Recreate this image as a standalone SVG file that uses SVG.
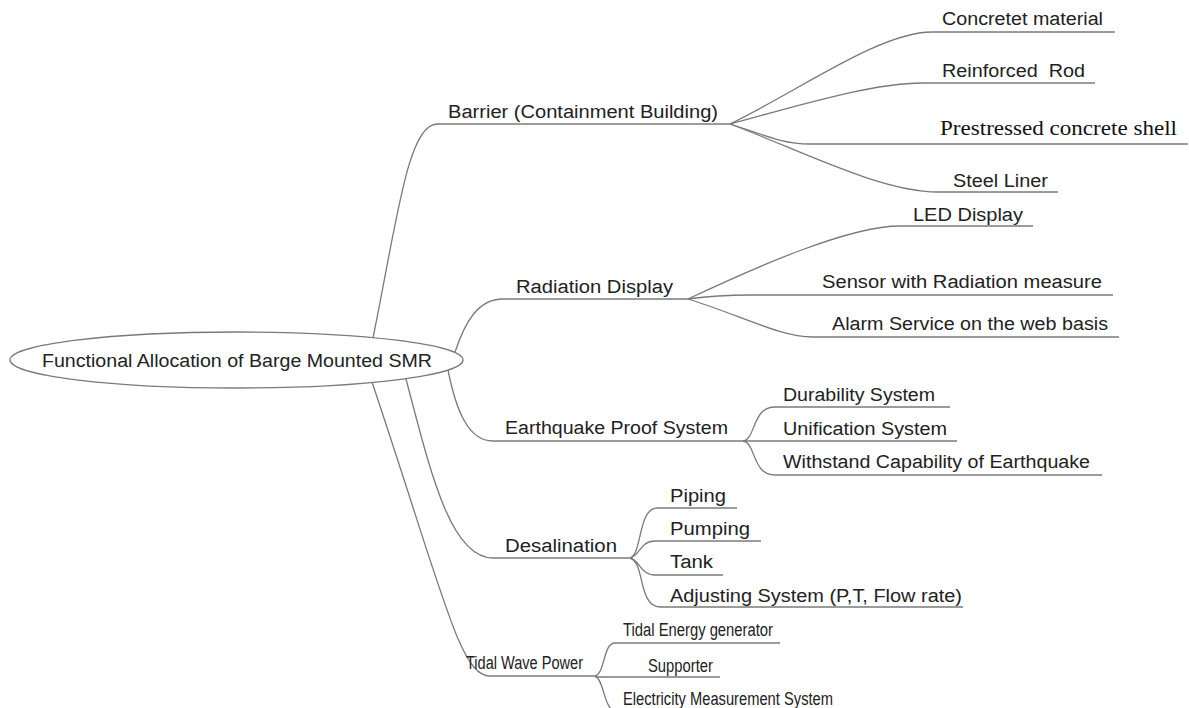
<svg xmlns="http://www.w3.org/2000/svg" width="1189" height="708" viewBox="0 0 1189 708">
<style>
.ln{fill:none;stroke:#7a7a7a;stroke-width:1.3}
.t{font-family:"Liberation Sans",Arial,sans-serif;font-size:18px;fill:#222}
.s{font-family:"Liberation Serif","Times New Roman",serif;font-size:21px;fill:#111}
</style>
<rect width="1189" height="708" fill="#fff"/>
<g id="connectors" class="ln">
<path d="M373,338 C397,220 408,124 437,124"/>
<path d="M730,124 C800,90 880,32 932,32"/>
<path d="M730,124 C790,108 870,83 922,83"/>
<path d="M730,124 C760,133 780,144 810,144"/>
<path d="M730,124 C800,150 880,192 938,192"/>
<path d="M455,352 C465,322 478,299 503,299"/>
<path d="M688,299 C760,265 850,226 900,226"/>
<path d="M688,299 C710,296 730,295 750,295"/>
<path d="M688,299 C740,315 780,337 813,337"/>
<path d="M448,370 C456,410 468,441 493,441"/>
<path d="M743,441 C756,439 752,407 775,407"/>
<path d="M743,441 C756,443 752,475 775,475"/>
<path d="M406,379 C430,470 450,558 493,558"/>
<path d="M630,558 C642,555 638,508 657,508"/>
<path d="M630,558 C640,556 640,541 655,541"/>
<path d="M630,558 C640,560 640,575 655,575"/>
<path d="M630,558 C645,562 638,607 660,607"/>
<path d="M372,382 C445,600 460,676 490,676"/>
<path d="M595,676 C605,674 603,643 615,643"/>
<path d="M595,676 C605,680 603,712 618,712"/>
</g>
<g id="root">
<ellipse cx="236.5" cy="360" rx="226.5" ry="28" fill="#fff" stroke="#7a7a7a" stroke-width="1.3"/>
<text class="t" x="42" y="367" font-size="19" textLength="390" lengthAdjust="spacingAndGlyphs">Functional Allocation of Barge Mounted SMR</text>
</g>
<g id="barrier"><path class="ln" d="M437,124 H730"/><text class="t" x="448" y="118" font-size="19.5" textLength="270" lengthAdjust="spacingAndGlyphs">Barrier (Containment Building)</text></g>
<g id="concretet"><path class="ln" d="M932,32 H1115"/><text class="t" x="942" y="25" textLength="161" lengthAdjust="spacingAndGlyphs">Concretet material</text></g>
<g id="reinforced"><path class="ln" d="M922,83 H1095"/><text class="t" x="942" y="77" xml:space="preserve" style="white-space:pre" textLength="143" lengthAdjust="spacingAndGlyphs">Reinforced  Rod</text></g>
<g id="prestressed"><path class="ln" d="M810,144 H1188"/><text class="s" x="940" y="135" textLength="237" lengthAdjust="spacingAndGlyphs">Prestressed concrete shell</text></g>
<g id="steel"><path class="ln" d="M938,192 H1058"/><text class="t" x="953" y="187" textLength="95" lengthAdjust="spacingAndGlyphs">Steel Liner</text></g>
<g id="radiation"><path class="ln" d="M503,299 H690"/><text class="t" x="516" y="293" textLength="157" lengthAdjust="spacingAndGlyphs">Radiation Display</text></g>
<g id="led"><path class="ln" d="M900,226 H1033"/><text class="t" x="913" y="221" textLength="110" lengthAdjust="spacingAndGlyphs">LED Display</text></g>
<g id="sensor"><path class="ln" d="M750,295 H1113"/><text class="t" x="822" y="288" textLength="280" lengthAdjust="spacingAndGlyphs">Sensor with Radiation measure</text></g>
<g id="alarm"><path class="ln" d="M813,337 H1119"/><text class="t" x="832" y="330" textLength="276" lengthAdjust="spacingAndGlyphs">Alarm Service on the web basis</text></g>
<g id="earthquake"><path class="ln" d="M493,441 H743"/><text class="t" x="505" y="434" textLength="223" lengthAdjust="spacingAndGlyphs">Earthquake Proof System</text></g>
<g id="durability"><path class="ln" d="M775,407 H950"/><text class="t" x="783" y="401" textLength="152" lengthAdjust="spacingAndGlyphs">Durability System</text></g>
<g id="unification"><path class="ln" d="M743,441 H957"/><text class="t" x="783" y="435" textLength="164" lengthAdjust="spacingAndGlyphs">Unification System</text></g>
<g id="withstand"><path class="ln" d="M775,475 H1102"/><text class="t" x="783" y="468" textLength="307" lengthAdjust="spacingAndGlyphs">Withstand Capability of Earthquake</text></g>
<g id="desalination"><path class="ln" d="M493,558 H632"/><text class="t" x="505" y="552" textLength="112" lengthAdjust="spacingAndGlyphs">Desalination</text></g>
<g id="piping"><path class="ln" d="M657,508 H737"/><text class="t" x="670" y="502" textLength="56" lengthAdjust="spacingAndGlyphs">Piping</text></g>
<g id="pumping"><path class="ln" d="M655,541 H761"/><text class="t" x="670" y="535" textLength="80" lengthAdjust="spacingAndGlyphs">Pumping</text></g>
<g id="tank"><path class="ln" d="M655,575 H723"/><text class="t" x="670" y="568" textLength="43" lengthAdjust="spacingAndGlyphs">Tank</text></g>
<g id="adjusting"><path class="ln" d="M660,607 H963"/><text class="t" x="670" y="602" textLength="292" lengthAdjust="spacingAndGlyphs">Adjusting System (P,T, Flow rate)</text></g>
<g id="tidal"><path class="ln" d="M490,676 H595"/><text class="t" x="466" y="669" textLength="117" lengthAdjust="spacingAndGlyphs">Tidal Wave Power</text></g>
<g id="tidal-energy"><path class="ln" d="M615,643 H780"/><text class="t" x="623" y="636" textLength="150" lengthAdjust="spacingAndGlyphs">Tidal Energy generator</text></g>
<g id="supporter"><path class="ln" d="M595,677 H720"/><text class="t" x="648" y="672" textLength="65" lengthAdjust="spacingAndGlyphs">Supporter</text></g>
<g id="electricity"><path class="ln" d="M618,712 H840"/><text class="t" x="623" y="705" textLength="210" lengthAdjust="spacingAndGlyphs">Electricity Measurement System</text></g>
</svg>
